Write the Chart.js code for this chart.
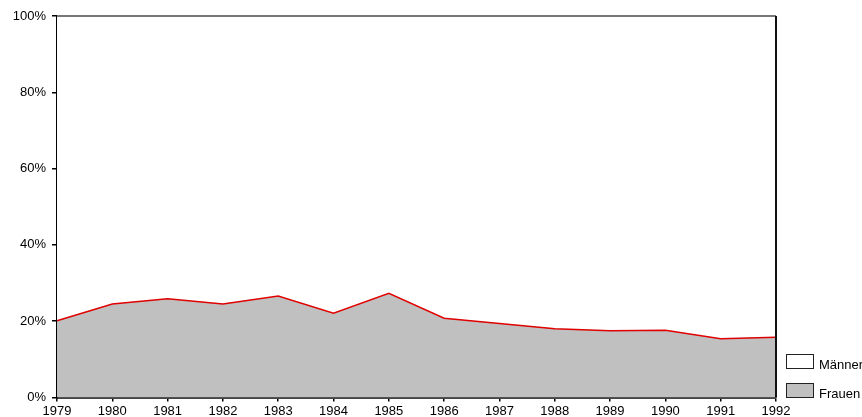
<!DOCTYPE html>
<html>
<head>
<meta charset="utf-8">
<script src="https://cdn.jsdelivr.net/npm/chart.js@4.4.0/dist/chart.umd.min.js"></script>
<style>
  html, body { margin: 0; padding: 0; background: #fff; }
  #wrap { position: relative; width: 862px; height: 417px; overflow: hidden; }
  .leg { position: absolute; left: 786px; height: 15px; line-height: 15px; font: 13px "Liberation Sans", Arial, sans-serif; color: #000; white-space: nowrap; }
  .leg span { display: inline-block; width: 26px; height: 13px; border: 1px solid #222; vertical-align: top; margin-right: 5px; }
  .leg b { font-weight: normal; position: relative; top: 3px; }
</style>
</head>
<body>
<div id="wrap">
  <canvas id="chart" width="862" height="417"></canvas>
  <div class="leg" style="top:354px"><span style="background:#fff"></span><b>Männer</b></div>
  <div class="leg" style="top:383px"><span style="background:#c0c0c0"></span><b>Frauen</b></div>
</div>
<script>
// Anteile in Prozent, Summe = 100
const jahre = ['1979', '1980', '1981', '1982', '1983', '1984', '1985', '1986', '1987', '1988', '1989', '1990', '1991', '1992'];
const frauen = [20.1, 24.5, 25.9, 24.5, 26.6, 22.1, 27.3, 20.8, 19.4, 18.0, 17.5, 17.6, 15.4, 15.8];
const maenner = frauen.map(v => 100 - v);
const yTicks = [0, 20, 40, 60, 80, 100];

const FONT = { family: '"Liberation Sans", Arial, sans-serif', size: 13 };

// Rahmen oben/rechts wie im Original
const frame = {
    id: 'frame',
    afterDatasetsDraw(chart) {
        const a = chart.chartArea, c = chart.ctx;
        c.save();
        c.lineWidth = 2;
        c.strokeStyle = '#777';
        c.beginPath(); c.moveTo(a.left, a.top); c.lineTo(a.right, a.top); c.stroke();
        c.strokeStyle = '#111';
        c.beginPath(); c.moveTo(a.right, a.top); c.lineTo(a.right, a.bottom); c.stroke();
        c.restore();
    }
};

new Chart(document.getElementById('chart'), {
    type: 'line',
    data: {
        labels: jahre,
        datasets: [{
            label: 'Frauen',
            data: frauen,
            fill: 'origin',
            backgroundColor: '#c0c0c0',
            borderColor: '#e00000',
            borderWidth: 1.5,
            pointRadius: 0,
            tension: 0
        }, {
            label: 'Männer',
            data: maenner,
            fill: '-1',
            backgroundColor: '#ffffff',
            borderColor: 'rgba(0,0,0,0)',
            borderWidth: 0,
            pointRadius: 0,
            tension: 0
        }]
    },
    options: {
        responsive: false,
        animation: false,
        layout: { padding: { left: 0, right: 86, top: 16, bottom: 0 } },
        plugins: { legend: { display: false }, tooltip: { enabled: false } },
        scales: {
            x: {
                offset: false,
                grid: { drawOnChartArea: false, tickLength: 4, color: '#000', lineWidth: 1.5 },
                border: { color: '#444', width: 2 },
                ticks: { color: '#000', font: FONT, padding: 2, autoSkip: false, maxRotation: 0 },
                afterFit(s) { s.height = 19.5; }
            },
            y: {
                stacked: true,
                min: 0,
                max: 100,
                afterBuildTicks(s) { s.ticks = yTicks.map(v => ({ value: v })); },
                grid: { drawOnChartArea: false, tickLength: 5, color: '#000', lineWidth: 1.5 },
                border: { color: '#000', width: 2 },
                ticks: { color: '#000', font: FONT, padding: 6, callback: v => v + '%' },
                afterFit(s) { s.width = 57; }
            }
        }
    },
    plugins: [frame]
});
</script>
</body>
</html>
